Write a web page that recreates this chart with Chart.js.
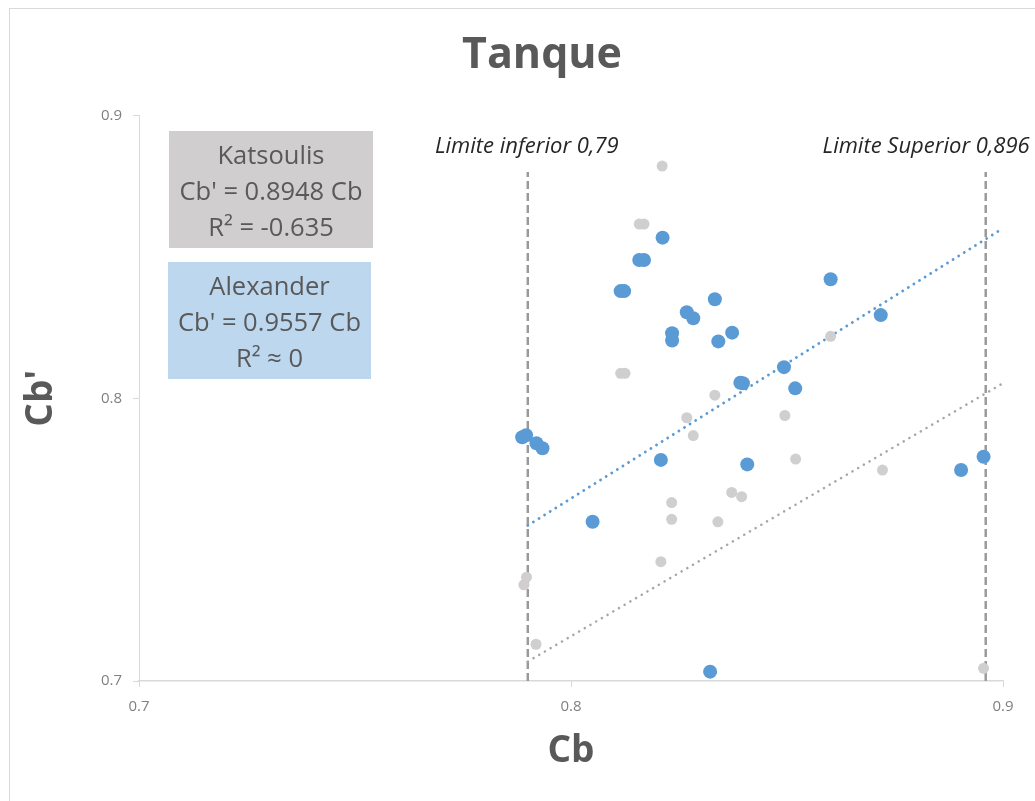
<!DOCTYPE html>
<html>
<head>
<meta charset="utf-8">
<script src="https://cdn.jsdelivr.net/npm/chart.js@4/dist/chart.umd.min.js"></script>
<style>
  html, body { margin: 0; padding: 0; background: #ffffff; }
  #wrap { width: 1035px; height: 801px; position: relative; }
</style>
</head>
<body>
<div id="wrap"><canvas id="c" width="1035" height="801"></canvas></div>
<script>
// ---- Chart data ----
const chartTitle = 'Tanque';
const xAxisTitle = 'Cb';
const yAxisTitle = "Cb'";
const xTicks = [0.7, 0.8, 0.9];
const yTicks = [0.7, 0.8, 0.9];

// Katsoulis (grey markers)
const katsoulisCb      = [0.8211, 0.8158, 0.8169, 0.8115, 0.8125, 0.8333, 0.8601, 0.8495, 0.8268, 0.8283, 0.8520,
                          0.8721, 0.8372, 0.8395, 0.8233, 0.8233, 0.8340, 0.8208, 0.7897, 0.7891, 0.7919, 0.8955];
const katsoulisCbPrime = [0.8821, 0.8616, 0.8616, 0.8088, 0.8088, 0.8011, 0.8219, 0.7939, 0.7931, 0.7868, 0.7785,
                          0.7746, 0.7667, 0.7652, 0.7631, 0.7572, 0.7563, 0.7422, 0.7367, 0.7340, 0.7130, 0.7045];

// Alexander (blue markers)
const alexanderCb      = [0.8212, 0.8158, 0.8169, 0.8115, 0.8123, 0.8333, 0.8268, 0.8283, 0.8234, 0.8234, 0.8373,
                          0.8341, 0.8601, 0.8717, 0.8392, 0.8398, 0.8493, 0.8519, 0.7887, 0.7896, 0.7920, 0.7934,
                          0.8208, 0.8408, 0.8050, 0.8903, 0.8955, 0.8322];
const alexanderCbPrime = [0.8568, 0.8489, 0.8489, 0.8379, 0.8379, 0.8350, 0.8304, 0.8283, 0.8230, 0.8204, 0.8232,
                          0.8201, 0.8421, 0.8294, 0.8055, 0.8053, 0.8110, 0.8035, 0.7862, 0.7869, 0.7841, 0.7823,
                          0.7782, 0.7766, 0.7563, 0.7746, 0.7793, 0.7033];

// Fitted lines through the origin: Cb' = slope * Cb
const katsoulisSlope = 0.8948;
const alexanderSlope = 0.9557;
const trendRange = [0.79, 0.9];

// Validity limits for Cb
const limiteInferior = 0.79;
const limiteSuperior = 0.896;
const limiteRange = [0.7, 0.88];
const limiteInferiorLabel = 'Limite inferior 0,79';
const limiteSuperiorLabel = 'Limite Superior 0,896';

const katsoulisBox = ['Katsoulis', "Cb' = 0.8948 Cb", 'R² = -0.635'];
const alexanderBox = ['Alexander', "Cb' = 0.9557 Cb", 'R² ≈ 0'];

// ---- Helpers ----
const toPoints = (xs, ys) => xs.map((x, i) => ({ x: x, y: ys[i] }));
const trendPoints = (slope) => trendRange.map(x => ({ x: x, y: slope * x }));
const verticalPoints = (x) => limiteRange.map(y => ({ x: x, y: y }));

const TEXT = '#595959';
const AXIS = '#d9d9d9';
const FONT = '"Open Sans", sans-serif';

// Frame, title, equation boxes and limit captions
const decorations = {
  id: 'decorations',
  beforeDraw(chart) {
    const ctx = chart.ctx;
    ctx.save();
    ctx.fillStyle = '#ffffff';
    ctx.fillRect(0, 0, chart.width, chart.height);
    ctx.strokeStyle = AXIS;
    ctx.lineWidth = 1;
    ctx.strokeRect(9.5, 8.5, chart.width + 20, chart.height + 20);

    // chart title, centred on the outer frame
    ctx.fillStyle = TEXT;
    ctx.font = 'bold 43px ' + FONT;
    ctx.textAlign = 'center';
    ctx.textBaseline = 'middle';
    ctx.fillText(chartTitle, 542, 56);
    ctx.restore();
  },
  afterDatasetsDraw(chart) {
    const ctx = chart.ctx;
    const xs = chart.scales.x, ys = chart.scales.y;
    ctx.save();
    const drawBox = (box, fill, lines) => {
      ctx.fillStyle = fill;
      ctx.fillRect(box.x, box.y, box.w, box.h);
      ctx.fillStyle = TEXT;
      ctx.font = '25.5px ' + FONT;
      ctx.textAlign = 'center';
      ctx.textBaseline = 'middle';
      lines.forEach((t, i) => ctx.fillText(t, box.x + box.w / 2, box.y + 26 + i * 36));
    };
    drawBox({ x: 169, y: 131, w: 204, h: 117 }, '#d0cece', katsoulisBox);
    drawBox({ x: 168, y: 262, w: 203, h: 117 }, '#bdd7ee', alexanderBox);

    ctx.fillStyle = '#262626';
    ctx.font = 'italic 22px ' + FONT;
    ctx.textBaseline = 'middle';
    const labelY = ys.getPixelForValue(limiteRange[1]) - 25;
    ctx.textAlign = 'center';
    ctx.fillText(limiteInferiorLabel, xs.getPixelForValue(limiteInferior) - 1, labelY);
    ctx.textAlign = 'right';
    ctx.fillText(limiteSuperiorLabel, xs.getPixelForValue(limiteSuperior) + 44, labelY);
    ctx.restore();
  }
};

const fixedTicks = (values) => (scale) => { scale.ticks = values.map(v => ({ value: v })); };

new Chart(document.getElementById('c'), {
  type: 'scatter',
  data: {
    datasets: [
      {
        label: 'Limite inferior',
        data: verticalPoints(limiteInferior),
        showLine: true,
        borderColor: '#9a9a9a',
        borderWidth: 2.5,
        borderDash: [8, 4],
        pointRadius: 0,
        order: 5
      },
      {
        label: 'Limite superior',
        data: verticalPoints(limiteSuperior),
        showLine: true,
        borderColor: '#9a9a9a',
        borderWidth: 2.5,
        borderDash: [8, 4],
        pointRadius: 0,
        order: 5
      },
      {
        label: 'Tendência Katsoulis',
        data: trendPoints(katsoulisSlope),
        showLine: true,
        borderColor: '#a6a6a6',
        borderWidth: 2.5,
        borderCapStyle: 'round',
        borderDash: [0.1, 6.5],
        pointRadius: 0,
        order: 4
      },
      {
        label: 'Tendência Alexander',
        data: trendPoints(alexanderSlope),
        showLine: true,
        borderColor: '#5b9bd5',
        borderWidth: 2.8,
        borderCapStyle: 'round',
        borderDash: [0.1, 6.5],
        pointRadius: 0,
        order: 4
      },
      {
        label: 'Katsoulis',
        data: toPoints(katsoulisCb, katsoulisCbPrime),
        backgroundColor: '#d0cece',
        borderWidth: 0,
        pointRadius: 5.5,
        order: 3
      },
      {
        label: 'Alexander',
        data: toPoints(alexanderCb, alexanderCbPrime),
        backgroundColor: '#5b9bd5',
        borderWidth: 0,
        pointRadius: 7,
        order: 2
      }
    ]
  },
  options: {
    responsive: false,
    devicePixelRatio: 1,
    animation: false,
    layout: { padding: { left: 0, right: 32, top: 115.5, bottom: 0 } },
    plugins: {
      legend: { display: false },
      tooltip: { enabled: false },
      title: { display: false }
    },
    scales: {
      x: {
        type: 'linear',
        min: 0.7,
        max: 0.9,
        afterBuildTicks: fixedTicks(xTicks),
        afterFit: (s) => { s.height = 120; },
        border: { display: true, color: AXIS, width: 1.5 },
        grid: { display: true, drawOnChartArea: false, drawTicks: true, tickLength: 6, color: AXIS },
        ticks: {
          color: '#808080',
          padding: 11,
          font: { family: FONT, size: 15 },
          callback: (v) => String(v)
        },
        title: {
          display: true,
          text: xAxisTitle,
          color: TEXT,
          font: { family: FONT, size: 37, weight: 'bold', lineHeight: 1.2 },
          padding: { top: 0, bottom: 27 }
        }
      },
      y: {
        type: 'linear',
        min: 0.7,
        max: 0.9,
        afterBuildTicks: fixedTicks(yTicks),
        afterFit: (s) => { s.width = 139; },
        border: { display: true, color: AXIS, width: 1 },
        grid: { display: true, drawOnChartArea: false, drawTicks: true, tickLength: 6, color: AXIS },
        ticks: {
          color: '#808080',
          padding: 11,
          font: { family: FONT, size: 15 },
          callback: (v) => String(v)
        },
        title: {
          display: true,
          text: yAxisTitle,
          color: TEXT,
          font: { family: FONT, size: 37, weight: 'bold', lineHeight: 1.2 },
          padding: { top: 19, bottom: 0 }
        }
      }
    }
  },
  plugins: [decorations]
});
</script>
</body>
</html>
